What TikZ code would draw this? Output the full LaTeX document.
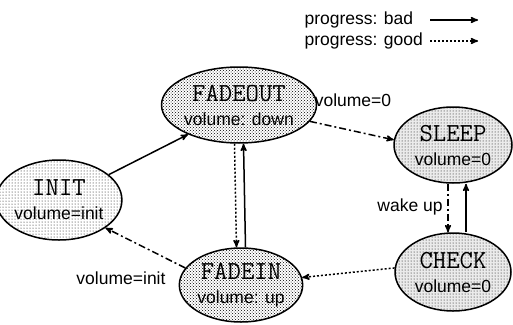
\documentclass[tikz,border=0pt]{standalone}
\usepackage{fontspec}
\setmainfont{Liberation Sans}
\usepackage{tikz}
\usetikzlibrary{arrows}
\usetikzlibrary{shapes.geometric}
\usetikzlibrary{patterns}

\newcommand{\statename}[1]{{\fontsize{26}{26}\selectfont\ttfamily #1}}

\begin{document}
\begin{tikzpicture}[x=1pt,y=-1pt,
  statenode/.style={ellipse, draw=black, line width=1.5pt, inner sep=0pt, align=center, font=\fontsize{17.5}{24}\selectfont},
  bad/.style={black, line width=1.5pt, ->, >=stealth'},
  good/.style={bad, dash pattern=on 2pt off 2pt},
  leave/.style={bad, dash pattern=on 7pt off 3pt on 2pt off 3pt}]
\useasboundingbox (0,0) rectangle (513,324);
% legend
\node[anchor=west, font=\fontsize{17.5}{21}\selectfont] (legbad) at (301,20) {progress: bad};
\node[anchor=west, font=\fontsize{17.5}{21}\selectfont] (leggood) at (301,41) {progress: good};
\coordinate (badA) at (430,20);
\coordinate (badB) at (478,20);
\coordinate (goodA) at (430,41);
\coordinate (goodB) at (478,41);
\draw[bad] (badA) -- (badB);
\draw[good] (goodA) -- (goodB);
% states
\node[statenode, pattern=dots, minimum width=98, minimum height=80] (init) at (59,200) {\statename{INIT}\\volume=init};
\node[statenode, pattern=crosshatch dots, minimum width=132, minimum height=76] (fadeout) at (239,105) {\statename{FADEOUT}\\volume: down};
\node[statenode, pattern=crosshatch dots, minimum width=117, minimum height=74] (fadein) at (241,285) {\statename{FADEIN}\\volume: up};
\node[statenode, preaction={fill=gray!16}, pattern=dots, minimum width=118, minimum height=76] (sleep) at (453,145) {\statename{SLEEP}\\volume=0};
\node[statenode, preaction={fill=gray!16}, pattern=dots, minimum width=116, minimum height=78] (check) at (453,272) {\statename{CHECK}\\volume=0};
% transitions
\draw[bad] (init.27) -- (fadeout.210);
\draw[leave] (fadeout.-13) -- (sleep.175);
\node[font=\fontsize{17.5}{21}\selectfont] (volzero) at (353,100) {volume=0};
\draw[good] ([xshift=-4.5pt]fadeout.south) -- ([xshift=-4.5pt]fadein.north);
\draw[bad] ([xshift=4.5pt]fadein.north) -- ([xshift=4.5pt]fadeout.south);
\draw[leave] ([xshift=-5pt]sleep.south) -- ([xshift=-5pt]check.north);
\draw[bad] ([xshift=13pt]check.north) -- ([xshift=13pt]sleep.south);
\node[font=\fontsize{17.5}{21}\selectfont] (wakeup) at (410,207) {wake up};
\draw[good] (check.176) -- (fadein.7);
\draw[leave] (fadein.163) -- (init.-31);
\node[font=\fontsize{17.5}{21}\selectfont] (volinit) at (121,278) {volume=init};
\end{tikzpicture}
\end{document}
